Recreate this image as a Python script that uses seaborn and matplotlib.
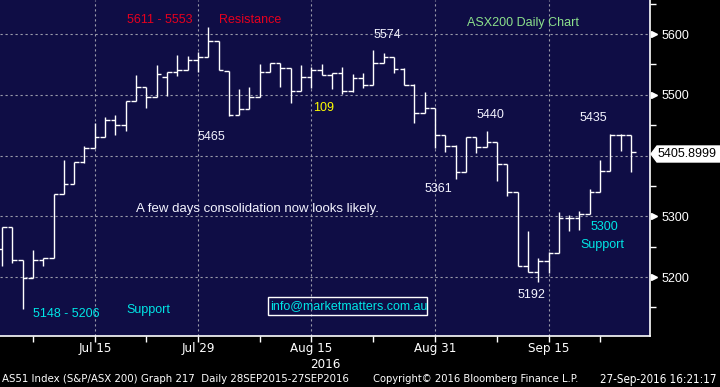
import numpy as np
import pandas as pd
import matplotlib
matplotlib.use("Agg")
import matplotlib.pyplot as plt
import seaborn as sns
from matplotlib import font_manager
from matplotlib.patches import Polygon, Rectangle

# ---------------- data ----------------
dates = pd.bdate_range("2016-07-04", "2016-09-27")
opens = [5246, 5282, 5228, 5199, 5228, 5231, 5337, 5353, 5389, 5412,
         5430, 5458, 5451, 5490, 5512, 5497, 5530, 5537, 5540, 5557,
         5562, 5588, 5539, 5466, 5476, 5497, 5537, 5552, 5544, 5507,
         5530, 5540, 5532, 5536, 5507, 5527, 5516, 5553, 5562, 5542,
         5516, 5470, 5478, 5434, 5416, 5373, 5430, 5414, 5423, 5386,
         5340, 5219, 5208, 5227, 5239, 5297, 5297, 5304, 5340, 5374,
         5433, 5433]
highs = [5282, 5282, 5228, 5245, 5231, 5337, 5393, 5389, 5415, 5454,
         5463, 5467, 5490, 5533, 5512, 5549, 5537, 5565, 5564, 5570,
         5611, 5589, 5539, 5510, 5513, 5551, 5553, 5552, 5544, 5549,
         5546, 5551, 5536, 5545, 5534, 5536, 5574, 5568, 5562, 5544,
         5517, 5505, 5478, 5434, 5418, 5431, 5430, 5440, 5423, 5386,
         5340, 5276, 5231, 5241, 5307, 5302, 5309, 5345, 5392, 5435,
         5436, 5433]
lows = [5219, 5223, 5148, 5198, 5219, 5231, 5337, 5353, 5387, 5412,
        5430, 5434, 5441, 5490, 5479, 5497, 5498, 5531, 5540, 5537,
        5562, 5540, 5465, 5466, 5476, 5497, 5537, 5513, 5486, 5507,
        5511, 5532, 5509, 5501, 5505, 5511, 5516, 5553, 5536, 5516,
        5453, 5470, 5412, 5406, 5361, 5373, 5405, 5414, 5358, 5334,
        5219, 5208, 5192, 5206, 5239, 5275, 5278, 5304, 5340, 5374,
        5408, 5373]
closes = [5282, 5228, 5199, 5228, 5231, 5337, 5353, 5389, 5412, 5430,
          5458, 5451, 5490, 5512, 5497, 5534, 5537, 5540, 5557, 5562,
          5588, 5540, 5466, 5476, 5497, 5537, 5552, 5544, 5507, 5530,
          5540, 5532, 5536, 5507, 5527, 5516, 5553, 5562, 5542, 5516,
          5470, 5478, 5434, 5416, 5373, 5430, 5414, 5423, 5386, 5340,
          5219, 5208, 5227, 5239, 5297, 5297, 5304, 5340, 5374, 5433,
          5433, 5405.8999]
major_dates = ["2016-07-15", "2016-07-29", "2016-08-15", "2016-08-31", "2016-09-15"]
major_labels = ["Jul 15", "Jul 29", "Aug 15", "Aug 31", "Sep 15"]
minor_dates = ["2016-07-07", "2016-07-22", "2016-08-08", "2016-08-23", "2016-09-08", "2016-09-22"]
y_major = [5200, 5300, 5400, 5500, 5600]
y_labels = ["5200", "5300", "", "5500", "5600"]   # 5400 hidden by the last-price tag
y_minor = [5150, 5250, 5350, 5450, 5550, 5650]
last_price = 5405.8999

df = pd.DataFrame({"date": dates, "open": opens, "high": highs,
                   "low": lows, "close": closes})
df["i"] = np.arange(len(df))

# ---------------- style ----------------
sns.set_theme(style="dark")
NAVY = "#0f0d45"


def has_font(name):
    try:
        font_manager.findfont(font_manager.FontProperties(family=name),
                              fallback_to_default=False)
        return True
    except Exception:
        return False


main_font = "Liberation Sans" if has_font("Liberation Sans") else "DejaVu Sans"
plt.rcParams["font.family"] = [main_font, "DejaVu Sans"]

# look for a condensed / narrow sans face for the Bloomberg-style axis text
narrow_fp = None
for f in font_manager.fontManager.ttflist:
    fn = f.fname.lower()
    if ("condensed" in fn or "narrow" in fn) and "bold" not in fn and \
            "oblique" not in fn and "italic" not in fn and "mono" not in fn \
            and "serif" not in fn.replace("sans", ""):
        narrow_fp = font_manager.FontProperties(fname=f.fname)
        break
if narrow_fp is None:
    narrow_fp = font_manager.FontProperties(family=main_font)

W, H = 720, 387
fig = plt.figure(figsize=(W / 100, H / 100), dpi=100, facecolor="black")
ax = fig.add_axes([0, 1 - 336 / H, 650 / W, 336 / H])
ax.set_facecolor(NAVY)


def fx(px):
    return px / W


def fy(py):
    return 1 - py / H


# ---------------- OHLC bars ----------------
tick_w = 0.45
ax.vlines(df["i"], df["low"], df["high"], color="white", lw=1.0, zorder=3)
ax.hlines(df["open"], df["i"] - tick_w, df["i"], color="white", lw=1.0, zorder=3)
ax.hlines(df["close"], df["i"], df["i"] + tick_w, color="white", lw=1.0, zorder=3)

ax.set_xlim(-0.19, 62.84)
ax.set_ylim(5103, 5656)

# ---------------- axes / ticks ----------------
date_idx = {d.strftime("%Y-%m-%d"): k for k, d in enumerate(df["date"])}
ax.set_xticks([date_idx[d] for d in major_dates])
ax.set_xticklabels(major_labels, color="white")
for t in ax.get_xticklabels():
    t.set_fontproperties(narrow_fp)
    t.set_fontsize(10.5)
ax.set_xticks([date_idx[d] for d in minor_dates], minor=True)
ax.tick_params(axis="x", which="both", direction="out", length=4, width=1,
               color="white", pad=0, bottom=True)

ax.yaxis.tick_right()
ax.set_yticks(y_major)
ax.set_yticklabels(y_labels, fontsize=9, color="white")
ax.set_yticks(y_minor, minor=True)
ax.tick_params(axis="y", which="major", direction="out", length=0, pad=8.5,
               right=True, left=False)
ax.tick_params(axis="y", which="minor", direction="out", length=4, width=1,
               color="white", right=True, left=False)
ytrans = ax.get_yaxis_transform()
mark_y = [v for v, lab in zip(y_major, y_labels) if lab]
ax.plot([1 + 4 / 650] * len(mark_y), mark_y, ls="none", marker=">", ms=5,
        color="white", transform=ytrans, clip_on=False, zorder=5)

ax.grid(True, which="major", color="#9a9aaa", linestyle=(0, (2, 2.5)), lw=0.8)
for side in ["top", "left"]:
    ax.spines[side].set_visible(False)
for side in ["bottom", "right"]:
    ax.spines[side].set_visible(True)
    ax.spines[side].set_color("white")
    ax.spines[side].set_linewidth(1.2)

# last price tag
tag = Polygon([(fx(651), fy(154)), (fx(657), fy(146)), (fx(720), fy(146)),
               (fx(720), fy(162)), (fx(657), fy(162))], closed=True,
              transform=fig.transFigure, facecolor="white", edgecolor="white",
              zorder=6)
fig.patches.append(tag)
fig.text(fx(658), fy(154), f"{last_price:.4f}", color="black", fontsize=9,
         va="center", ha="left", zorder=7)

# ---------------- annotations ----------------
RED = "#e6001e"
CYAN = "#00e6e6"
GREEN = "#8ce08c"
YEL = "#ffff00"
WH = "#f4f4ff"
notes = [
    ("5611 - 5553", 127, 20, RED, 9),
    ("Resistance", 219, 20, RED, 9),
    ("ASX200 Daily Chart", 467, 23, GREEN, 9),
    ("5574", 374, 35, WH, 9),
    ("5465", 198, 137, WH, 9),
    ("109", 313, 108, YEL, 9),
    ("5361", 425, 189, WH, 9),
    ("5440", 477, 115, WH, 9),
    ("5435", 580, 118, WH, 9),
    ("5300", 591, 227, CYAN, 9),
    ("Support", 580, 245, CYAN, 9),
    ("5192", 518, 295, WH, 9),
    ("5148 - 5206", 33, 314, CYAN, 9),
    ("Support", 126, 310, CYAN, 9),
    ("A few days consolidation now looks likely.", 136, 209, WH, 9.5),
    ("info@marketmatters.com.au", 270, 306, CYAN, 9),
]
for txt, px, py, col, fs in notes:
    fig.text(fx(px), fy(py), txt, color=col, fontsize=fs, ha="left",
             va="center", zorder=8)
fig.patches.append(Rectangle((fx(268), fy(315)), fx(427) - fx(268),
                             fy(297) - fy(315), transform=fig.transFigure,
                             fill=False, edgecolor="white", lw=1, zorder=8))

# year + footer (widths fitted to the reference)
year_t = fig.text(fx(325), fy(364), "2016", color="white",
                  fontproperties=narrow_fp, ha="center", va="center")
year_t.set_fontsize(10.5)
foot = [
    (fig.text(fx(2), fy(379), "AS51 Index (S&P/ASX 200) Graph 217  Daily 28SEP2015-27SEP2016",
              color="white", fontproperties=narrow_fp, ha="left", va="center"), 350),
    (fig.text(fx(373), fy(379), "Copyright\u00a9 2016 Bloomberg Finance L.P.",
              color="white", fontproperties=narrow_fp, ha="left", va="center"), 207),
    (fig.text(fx(717), fy(379), "27-Sep-2016 16:21:17", color="white",
              fontproperties=narrow_fp, ha="right", va="center"), 116),
]
for t, _ in foot:
    t.set_fontsize(10)

fig.canvas.draw()
renderer = fig.canvas.get_renderer()
for t, target in foot:
    w = t.get_window_extent(renderer).width
    t.set_fontsize(t.get_fontsize() * target / w)
# fit x tick labels ("Jul 15" ~ 37 px wide in the reference)
w = ax.get_xticklabels()[0].get_window_extent(renderer).width
fs_x = min(10.5 * 37 / w, 9.5)
for t in ax.get_xticklabels():
    t.set_fontsize(fs_x)
year_t.set_fontsize(fs_x)

fig.savefig("out.png", dpi=100, facecolor="black")
